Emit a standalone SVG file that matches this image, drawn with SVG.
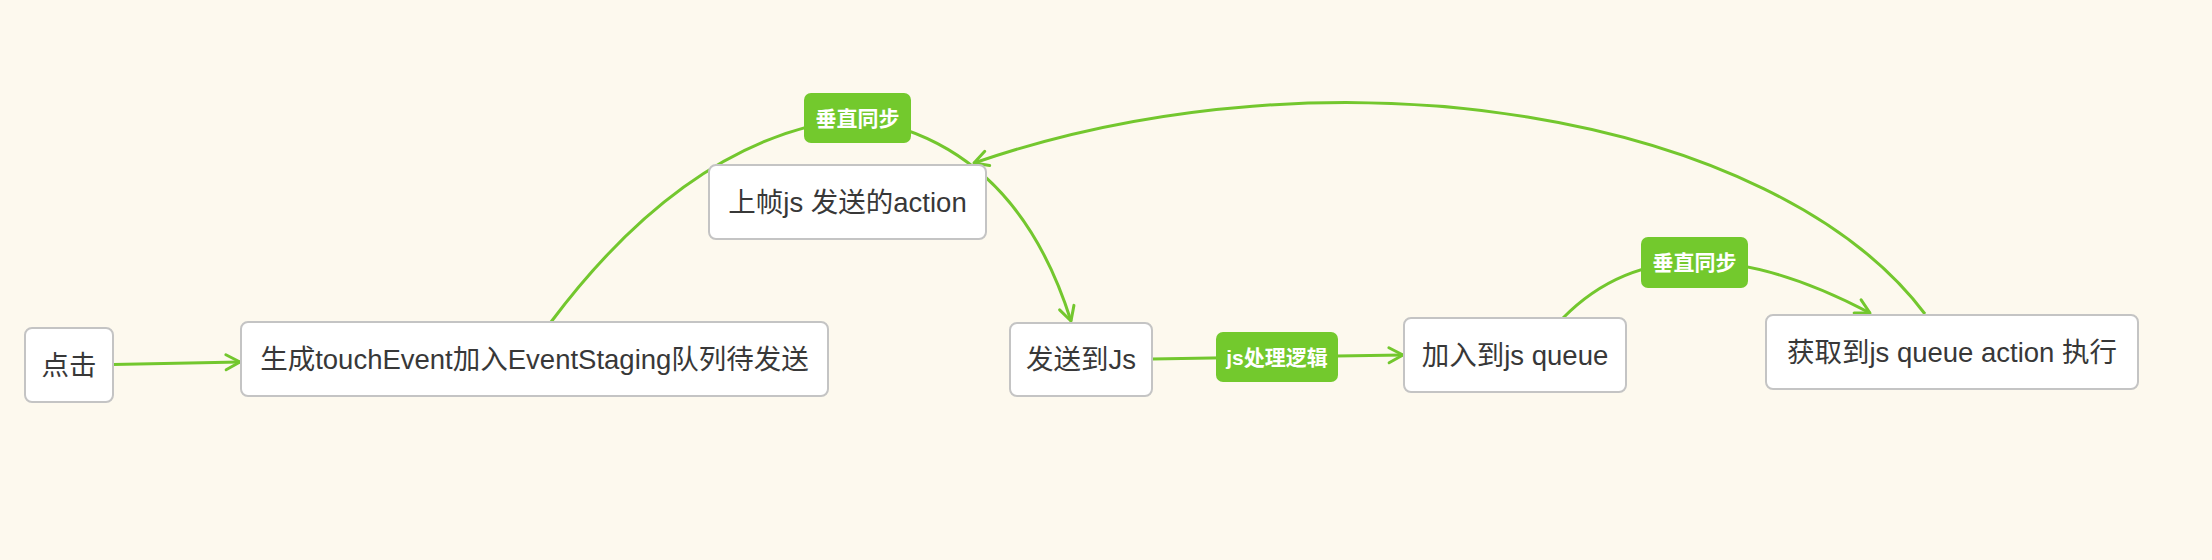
<svg xmlns="http://www.w3.org/2000/svg" width="2212" height="560" viewBox="0 0 2212 560">
<style>
.node rect{fill:#ffffff;stroke:#c4c4c4;stroke-width:2}
.node text{font-family:"Liberation Sans","Noto Sans CJK SC",sans-serif;font-size:27.5px;fill:#383838;text-anchor:middle}
.conn{fill:none;stroke:#73c72e;stroke-width:3}
.lbl rect{fill:#73c92d}
.lbl text{font-family:"Liberation Sans","Noto Sans CJK SC",sans-serif;font-size:21px;font-weight:bold;fill:#ffffff;text-anchor:middle}
</style>
<defs>
<marker id="arr" markerUnits="userSpaceOnUse" markerWidth="30" markerHeight="30" viewBox="-20 -15 30 30" refX="0" refY="0" orient="auto">
<path d="M -14 -7.5 L 0 0 L -14 7.5" fill="none" stroke="#73c72e" stroke-width="3" stroke-linecap="round" stroke-linejoin="round"/>
</marker>
</defs>
<rect x="0" y="0" width="2212" height="560" fill="#fdf9ee"/>
<g id="connectors">
<path class="conn" d="M 113 364.5 L 240 362" marker-end="url(#arr)"/>
<path class="conn" d="M 551 322 Q 691.5 134.6 857 118 Q 1014.4 141.6 1071 321" marker-end="url(#arr)"/>
<path class="conn" d="M 1152 359 L 1403 355" marker-end="url(#arr)"/>
<path class="conn" d="M 1563 318 Q 1671 208 1870 313" marker-end="url(#arr)"/>
<path class="conn" d="M 1925 314 C 1775 114 1332 39 974 163" marker-end="url(#arr)"/>
<g class="lbl" id="label-vsync-1"><rect x="804" y="93" width="107" height="50" rx="7"/><text x="857.5" y="118" dy="0.36em">垂直同步</text></g>
<g class="lbl" id="label-js"><rect x="1216" y="332" width="122" height="50" rx="7"/><text x="1277" y="357" dy="0.36em">js处理逻辑</text></g>
<g class="lbl" id="label-vsync-2"><rect x="1641" y="237" width="107" height="51" rx="7"/><text x="1694.5" y="262.5" dy="0.36em">垂直同步</text></g>
</g>
<g id="n1" class="node"><rect x="25" y="328" width="88" height="74" rx="7"/><text x="69" y="365" dy="0.36em">点击</text></g>
<g id="n2" class="node"><rect x="241" y="322" width="587" height="74" rx="7"/><text x="534.5" y="359" dy="0.36em">生成touchEvent加入EventStaging队列待发送</text></g>
<g id="n3" class="node"><rect x="709" y="165" width="277" height="74" rx="7"/><text x="847.5" y="202" dy="0.36em">上帧js 发送的action</text></g>
<g id="n4" class="node"><rect x="1010" y="323" width="142" height="73" rx="7"/><text x="1081" y="359.5" dy="0.36em">发送到Js</text></g>
<g id="n5" class="node"><rect x="1404" y="318" width="222" height="74" rx="7"/><text x="1515" y="355" dy="0.36em">加入到js queue</text></g>
<g id="n6" class="node"><rect x="1766" y="315" width="372" height="74" rx="7"/><text x="1952" y="352" dy="0.36em">获取到js queue action 执行</text></g>
</svg>
